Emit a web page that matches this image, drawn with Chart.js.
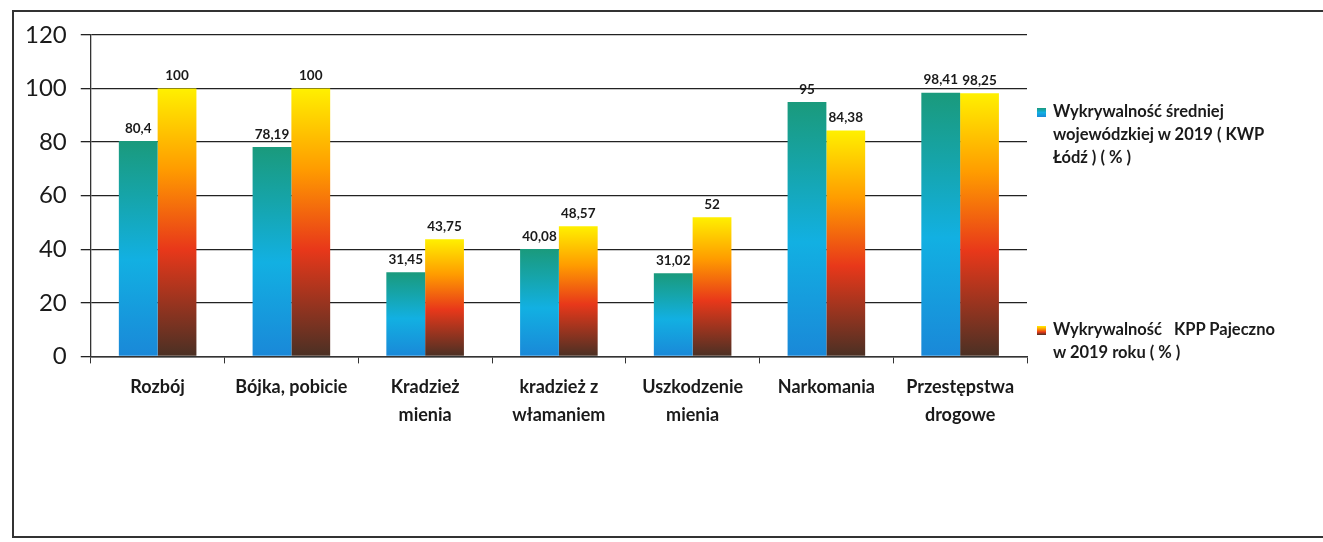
<!DOCTYPE html>
<html>
<head>
<meta charset="utf-8">
<script src="https://cdn.jsdelivr.net/npm/chart.js@4.4.0/dist/chart.umd.min.js"></script>
<style>
  html, body { margin: 0; padding: 0; background: #fff; }
  #wrap { position: relative; width: 1323px; height: 542px; overflow: hidden; font-family: Lato, "Open Sans", sans-serif; }
  #frame { position: absolute; left: 12px; top: 10px; width: 1330px; height: 528px; border: 2px solid #333; box-sizing: border-box; }
  #chartBox { position: absolute; left: 0; top: 0; width: 1323px; height: 542px; }
  .leg { position: absolute; left: 1037px; font-weight: bold; font-size: 16.5px; line-height: 23px; color: #1a1a1a; white-space: nowrap; }
  .leg .txt { padding-left: 16px; }
  .leg .mk { position: absolute; left: 0; top: 8px; width: 9px; height: 9px; }
</style>
</head>
<body>
<div id="wrap">
  <div id="frame"></div>
  <div id="chartBox"><canvas id="crimeChart"></canvas></div>
  <div class="leg" id="leg1" style="top: 100px;"><div class="mk" id="mk1"></div><div class="txt"></div></div>
  <div class="leg" id="leg2" style="top: 318px;"><div class="mk" id="mk2"></div><div class="txt"></div></div>
</div>
<script>
var categories = ['Rozbój', 'Bójka, pobicie', ['Kradzież', 'mienia'], ['kradzież z', 'włamaniem'], ['Uszkodzenie', 'mienia'], 'Narkomania', ['Przestępstwa', 'drogowe']];
var seriesNames = [['Wykrywalność średniej', 'wojewódzkiej w 2019 ( KWP', 'Łódź ) ( % )'], ['Wykrywalność \u00a0\u00a0KPP Pajeczno', 'w 2019 roku ( % )']];
var kwpValues = [80.4, 78.19, 31.45, 40.08, 31.02, 95, 98.41];
var kppValues = [100, 100, 43.75, 48.57, 52, 84.38, 98.25];
var yTicks = [0, 20, 40, 60, 80, 100, 120];

var blueStops = [[0, '#1a9a7c'], [0.25, '#16a4a8'], [0.55, '#12b0e2'], [1, '#1a88d8']];
var fireStops = [[0, '#fff000'], [0.3, '#ff9c00'], [0.6, '#e8381a'], [1, '#4a3024']];

function barGradient(stops) {
    return function (context) {
        var chart = context.chart;
        if (!chart.chartArea || context.parsed === undefined) return stops[1][1];
        var y = chart.scales.y;
        var top = y.getPixelForValue(context.parsed.y);
        var bottom = y.getPixelForValue(0);
        if (!isFinite(top) || top === bottom) return stops[1][1];
        var g = chart.ctx.createLinearGradient(0, top, 0, bottom);
        stops.forEach(function (s) { g.addColorStop(s[0], s[1]); });
        return g;
    };
}

var valueLabels = {
    id: 'valueLabels',
    afterDatasetsDraw: function (chart) {
        var ctx = chart.ctx;
        ctx.save();
        ctx.font = 'bold 13.5px Lato, sans-serif';
        ctx.fillStyle = '#1a1a1a';
        ctx.textAlign = 'center';
        ctx.textBaseline = 'bottom';
        chart.data.datasets.forEach(function (ds, i) {
            chart.getDatasetMeta(i).data.forEach(function (bar, j) {
                ctx.fillText(String(ds.data[j]).replace('.', ','), bar.x, bar.y - 6);
            });
        });
        ctx.restore();
    }
};

var ctx = document.getElementById('crimeChart').getContext('2d');
var crimeChart = new Chart(ctx, {
    type: 'bar',
    data: {
        labels: categories,
        datasets: [{
            label: seriesNames[0].join(' '),
            data: kwpValues,
            backgroundColor: barGradient(blueStops),
            barPercentage: 1,
            categoryPercentage: 0.58
        }, {
            label: seriesNames[1].join(' '),
            data: kppValues,
            backgroundColor: barGradient(fireStops),
            barPercentage: 1,
            categoryPercentage: 0.58
        }]
    },
    options: {
        responsive: true,
        maintainAspectRatio: false,
        animation: false,
        layout: { padding: { left: 11, right: 296, top: 35, bottom: 103 } },
        plugins: {
            legend: { display: false },
            tooltip: { enabled: false }
        },
        scales: {
            x: {
                grid: { offset: true, drawOnChartArea: false, drawTicks: true, tickLength: 7, color: '#333' },
                border: { display: true, color: '#333', width: 1.5 },
                ticks: { color: '#1a1a1a', font: { family: 'Lato', weight: 'bold', size: 18, lineHeight: 1.6 }, padding: 9, maxRotation: 0, autoSkip: false }
            },
            y: {
                min: 0,
                max: 120,
                afterBuildTicks: function (axis) { axis.ticks = yTicks.map(function (v) { return { value: v }; }); },
                grid: { color: '#222', lineWidth: 1.3, tickLength: 10 },
                border: { display: true, color: '#333', width: 1.3 },
                ticks: { color: '#1a1a1a', font: { family: 'Lato', size: 24 }, padding: 14 }
            }
        }
    },
    plugins: [valueLabels]
});

// html legend, line breaks as in the original
[['leg1', 0], ['leg2', 1]].forEach(function (p) {
    var box = document.querySelector('#' + p[0] + ' .txt');
    seriesNames[p[1]].forEach(function (line, k) {
        if (k) box.appendChild(document.createElement('br'));
        box.appendChild(document.createTextNode(line));
    });
});
document.getElementById('mk1').style.background = 'linear-gradient(#1a9a7c, #12b0e2, #1a88d8)';
document.getElementById('mk2').style.background = 'linear-gradient(#fff000, #ff9c00, #e8381a, #4a3024)';
</script>
</body>
</html>
